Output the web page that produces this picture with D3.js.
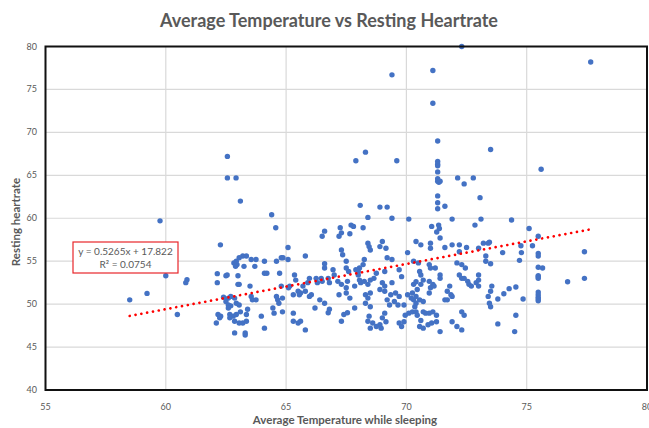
<!DOCTYPE html>
<html>
<head>
<meta charset="utf-8">
<script src="https://cdn.jsdelivr.net/npm/d3@7"></script>
<style>
  body { margin: 0; background: #fff; }
  svg { display: block; }
  text { font-family: Lato, "Open Sans", sans-serif; fill: #595959; }
</style>
</head>
<body>
<div class="app"></div>
<script>
// temperature (x) / heartrate (y) pairs
var temps = [
  72.3,71.1,69.4,71.1,71.3,73.5,62.56,68.3,67.9,69.6,71.3,71.3,71.3,71.3,71.3,71.3,71.35,71.4,62.56,62.92,72.13,72.78,72.4,63.1,73.06,71.3,71.3,71.3,71.6,68.08,68.9,69.2,64.4,68.4,69.4,70.1,71.9,73.1,
  77.66,75.6,74.37,75.1,75.48,75.24,74.76,74.78,74.0,73.45,75.48,75.48,77.4,74.7,73.5,75.48,75.66,75.48,75.48,75.48,77.4,76.7,73.55,74.55,74.27,74.05,73.8,73.5,74.85,75.48,75.48,75.48,75.48,75.48,73.5,74.55,73.8,74.5,
  71.05,71.34,71.37,71.26,72.85,69.0,68.9,70.4,70.6,71.0,71.0,71.4,71.6,71.9,72.2,72.2,72.5,73.2,73.4,73.0,73.3,73.3,69.15,69.2,69.4,69.1,70.05,70.3,70.5,70.55,70.6,70.7,70.6,70.3,70.4,69.7,69.8,69.4,69.0,69.1,68.9,
  70.95,71.0,71.2,71.4,71.4,70.95,71.1,71.0,71.15,70.95,71.8,71.7,71.6,72.2,72.3,72.4,72.1,72.3,72.45,72.55,72.6,72.7,73.0,73.0,72.9,73.0,73.4,73.45,
  69.1,69.2,69.35,69.55,69.7,69.5,69.3,69.65,69.1,69.0,69.15,68.95,68.9,
  69.9,69.95,70.1,70.25,70.3,70.4,70.2,70.05,70.25,70.4,70.45,70.55,70.7,70.35,70.4,70.45,70.6,70.7,70.8,70.95,71.1,71.25,70.55,70.7,70.9,71.05,71.25,71.4,69.9,69.7,69.8,
  71.85,71.9,71.7,72.3,72.4,71.9,72.1,72.3,
  64.57,66.6,66.5,67.25,67.2,67.3,67.7,67.8,67.65,68.2,65.08,65.8,67.3,67.35,66.6,66.6,68.4,68.45,68.5,68.25,68.2,68.05,68.0,67.5,67.5,67.6,66.95,67.0,66.75,66.8,
  66.46,66.5,66.25,66.3,65.97,65.9,66.05,65.97,65.7,65.8,65.6,65.5,65.55,65.35,65.4,65.15,65.3,65.1,64.8,64.6,64.65,64.7,64.85,64.45,64.5,64.85,65.3,65.3,65.5,65.6,65.8,
  63.97,64.1,63.35,63.2,63.35,63.3,66.2,66.4,66.6,66.8,66.75,67.4,67.55,67.3,67.85,67.2,67.5,67.65,67.15,67.3,67.5,67.55,67.85,
  67.9,68.0,68.05,68.1,68.25,68.4,68.5,68.65,68.75,68.3,68.4,68.5,68.3,68.5,68.45,68.4,68.6,68.75,68.5,
  63.2,63.35,63.05,63.25,63.55,63.7,63.75,64.1,64.1,64.2,64.6,64.8,64.87,65.08,64.73,63.5,63.6,63.75,63.55,63.05,
  59.76,62.27,60.0,60.88,60.83,62.14,62.14,62.5,62.55,62.83,62.96,62.9,62.93,63.0,63.0,59.22,58.5,60.48,
  62.4,62.6,62.7,62.86,62.5,62.6,62.7,62.6,62.93,62.17,62.28,62.24,62.1,62.66,62.8,62.93,62.86,62.66,62.86,
  63.05,63.1,63.4,63.05,63.3
];
var heartrates = [
  80.0,77.2,76.7,73.4,69.0,68.0,67.2,67.7,66.7,66.7,66.6,66.3,66.1,65.4,64.6,64.3,64.2,64.3,64.7,64.7,64.7,64.7,64.0,62.0,62.4,62.6,61.8,61.1,61.4,61.5,61.3,61.3,60.4,60.1,60.0,59.9,59.9,59.9,
  78.2,65.7,59.8,58.8,57.9,56.8,56.8,56.0,56.0,57.2,55.9,55.6,56.1,55.1,54.7,54.3,54.2,53.3,53.2,53.0,53.0,52.6,52.1,52.0,51.8,51.2,50.6,51.5,50.6,51.4,51.1,50.8,50.6,50.4,49.7,48.7,47.7,46.8,
  59.05,59.2,58.8,58.4,59.2,57.3,56.7,57.3,56.9,57.1,56.5,57.7,56.6,56.9,56.9,56.1,56.6,57.1,57.1,56.5,55.6,55.0,56.5,55.4,55.2,53.8,56.0,55.0,54.8,53.8,53.4,52.8,52.3,52.3,52.6,54.0,53.2,52.5,52.5,52.1,51.7,
  54.6,54.2,54.2,53.4,53.0,52.65,52.3,51.9,52.1,51.3,52.1,51.5,50.5,53.4,53.0,53.0,54.8,54.6,54.2,52.65,52.3,52.1,53.4,52.8,52.5,52.1,50.9,50.1,
  51.5,50.5,51.1,51.3,50.9,50.3,49.9,49.9,48.95,48.4,47.95,47.2,47.6,
  49.9,48.7,48.95,49.1,50.5,50.1,50.7,51.1,51.3,50.9,51.7,50.5,50.3,49.7,49.1,48.7,48.1,49.1,48.95,48.95,49.1,48.7,47.4,47.2,47.6,47.8,47.95,46.8,47.95,47.8,47.4,
  51.1,50.9,50.5,49.1,48.7,47.95,47.4,47.0,
  58.9,58.5,57.9,58.9,57.9,58.3,59.2,59.05,58.2,58.9,56.6,55.6,56.3,55.75,54.7,54.2,57.1,56.7,56.3,55.2,54.6,54.2,53.8,55.0,54.2,53.8,54.0,53.4,53.0,52.5,
  53.0,52.65,53.0,52.5,53.0,52.5,51.1,50.9,52.1,51.5,51.3,51.5,51.1,53.4,52.8,52.1,51.1,51.9,52.1,50.9,50.5,50.1,50.7,49.55,48.95,49.1,48.95,48.0,47.8,48.0,47.0,
  48.6,47.2,48.8,47.8,48.0,46.65,49.55,50.5,50.1,49.4,49.0,48.8,49.0,48.0,49.55,51.1,51.3,50.7,52.65,52.3,51.9,52.65,52.1,
  54.0,53.4,52.8,52.5,52.65,52.3,52.8,53.0,53.6,51.1,50.7,51.3,50.1,49.7,48.6,48.0,47.8,47.4,47.2,
  55.6,55.6,55.4,54.4,55.2,54.4,55.2,55.0,53.6,53.6,55.0,55.4,55.4,55.2,53.6,52.1,50.5,50.5,50.9,52.3,
  59.7,56.9,53.3,52.85,52.5,53.55,52.5,53.3,53.4,54.8,54.6,54.4,55.0,53.3,52.3,51.25,50.5,48.8,
  50.8,50.7,50.9,50.7,50.3,49.9,49.8,49.55,50.1,48.8,48.6,48.4,47.8,48.8,48.6,48.8,48.0,48.4,46.65,
  49.9,49.1,49.4,47.8,46.4
];
var xTicks = [55, 60, 65, 70, 75, 80];
var yTicks = [40, 45, 50, 55, 60, 65, 70, 75, 80];
var slope = 0.5265;
var intercept = 17.822;
var eqLabel = "y = 0.5265x + 17.822";
var r2Label = "R\u00b2 = 0.0754";
var chartTitle = "Average Temperature vs Resting Heartrate";
var xTitle = "Average Temperature while sleeping";
var yTitle = "Resting heartrate";

var width = 649, height = 428;
var plotLeft = 45.5, plotRight = 647, plotTop = 46.5, plotBottom = 390;

var svg = d3.select(".app").append("svg").attr("width", width).attr("height", height);

var x = d3.scaleLinear().domain([55, 80]).range([plotLeft, plotRight]);
var y = d3.scaleLinear().domain([40, 80]).range([plotBottom, plotTop]);

// gridlines
svg.append("g").selectAll("line").data(xTicks).enter().append("line")
  .attr("x1", function (d) { return x(d); }).attr("x2", function (d) { return x(d); })
  .attr("y1", plotTop).attr("y2", plotBottom)
  .attr("stroke", "#d9d9d9").attr("stroke-width", 1.2);
svg.append("g").selectAll("line").data(yTicks).enter().append("line")
  .attr("x1", plotLeft).attr("x2", plotRight)
  .attr("y1", function (d) { return y(d); }).attr("y2", function (d) { return y(d); })
  .attr("stroke", "#d9d9d9").attr("stroke-width", 1.2);

// tick labels
svg.append("g").selectAll("text").data(xTicks).enter().append("text")
  .attr("x", function (d) { return x(d); }).attr("y", 410)
  .attr("text-anchor", "middle").attr("font-size", 9).text(function (d) { return d; });
svg.append("g").selectAll("text").data(yTicks).enter().append("text")
  .attr("x", 37).attr("y", function (d) { return y(d) + 3; })
  .attr("text-anchor", "end").attr("font-size", 9).text(function (d) { return d; });

// points
var pts = temps.map(function (t, i) { return [t, heartrates[i]]; });
svg.append("g").selectAll("circle").data(pts).enter().append("circle")
  .attr("cx", function (d) { return x(d[0]); })
  .attr("cy", function (d) { return y(d[1]); })
  .attr("r", 2.7).attr("fill", "#4472c4");

// trendline
var xMin = d3.min(temps), xMax = d3.max(temps);
svg.append("line")
  .attr("x1", x(xMin)).attr("y1", y(slope * xMin + intercept))
  .attr("x2", x(xMax)).attr("y2", y(slope * xMax + intercept))
  .attr("stroke", "#ff0000").attr("stroke-width", 2.7)
  .attr("stroke-linecap", "round").attr("stroke-dasharray", "0.01 5.9");

// plot frame
svg.append("rect").attr("x", plotLeft).attr("y", plotTop)
  .attr("width", plotRight - plotLeft).attr("height", plotBottom - plotTop)
  .attr("fill", "none").attr("stroke", "#111").attr("stroke-width", 2);

// equation box
var eq = svg.append("g");
eq.append("rect").attr("x", 73).attr("y", 242).attr("width", 105).attr("height", 31)
  .attr("fill", "#fff").attr("stroke", "#e8262a").attr("stroke-width", 1.2);
eq.append("text").attr("x", 125.5).attr("y", 255).attr("text-anchor", "middle")
  .attr("font-size", 10).text(eqLabel);
eq.append("text").attr("x", 125.5).attr("y", 268).attr("text-anchor", "middle")
  .attr("font-size", 10).text(r2Label);

// titles
svg.append("text").attr("x", 329).attr("y", 27).attr("text-anchor", "middle")
  .attr("font-size", 18).attr("font-weight", "bold").text(chartTitle);
svg.append("text").attr("x", 345).attr("y", 424).attr("text-anchor", "middle")
  .attr("font-size", 11.5).attr("font-weight", "bold").text(xTitle);
svg.append("text").attr("transform", "translate(20,222) rotate(-90)")
  .attr("text-anchor", "middle").attr("font-size", 11.5).attr("font-weight", "bold").text(yTitle);
</script>
</body>
</html>
